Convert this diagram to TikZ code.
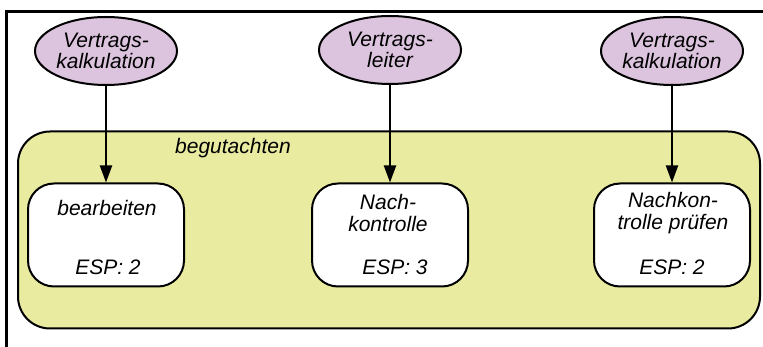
\documentclass[tikz,border=0pt]{standalone}
\usepackage{fontspec}
\setmainfont{Liberation Sans}
\usetikzlibrary{shapes.geometric,arrows.meta}
\definecolor{rolefill}{RGB}{220,196,222}
\definecolor{groupfill}{RGB}{232,235,160}
\tikzset{
  lbl/.style={font=\fontsize{21}{21.5}\selectfont\itshape, align=center, inner sep=0pt},
  role/.style={ellipse, draw=black, line width=2pt, fill=rolefill,
    minimum width=142pt, minimum height=68pt, inner sep=0pt,
    font=\fontsize{21}{21.5}\selectfont\itshape, align=center},
  task/.style={draw=black, line width=2pt, fill=white, rounded corners=26pt,
    minimum width=156pt, minimum height=103pt, inner sep=0pt},
  group/.style={draw=black, line width=2pt, fill=groupfill, rounded corners=32pt,
    minimum width=742pt, minimum height=197pt, inner sep=0pt},
  arr/.style={line width=2pt, -{Triangle[length=17pt,width=12pt]}}
}
\begin{document}
\begin{tikzpicture}[x=1pt,y=-1pt]
  \useasboundingbox (0,0) rectangle (763,347);
  % outer frame (only left and top edges lie inside the page)
  \coordinate (fb) at (6,352);
  \coordinate (fc) at (6,12);
  \coordinate (fr) at (768,12);
  \draw[line width=3pt] (fb) -- (fc) -- (fr);

  % grouping activity
  \node[group] (grp) at (389,230) {};
  \node[lbl, anchor=west] (grplbl) at (175,148) {begutachten};

  % tasks
  \node[task] (t1) at (106,235) {};
  \node[task] (t2) at (390,235) {};
  \node[task] (t3) at (672,235) {};

  \node[lbl] (t1a) at (107,208) {bearbeiten};
  \node[lbl] (t1b) at (108,267) {ESP: 2};

  \node[lbl] (t2a) at (388,213) {Nach-\\kontrolle};
  \node[lbl] (t2b) at (395,267) {ESP: 3};

  \node[lbl] (t3a) at (673,213) {Nachkon-\\trolle prüfen};
  \node[lbl] (t3b) at (672,267) {ESP: 2};

  % roles
  \node[role] (r1) at (106,51) {Vertrags-\\kalkulation};
  \node[role] (r2) at (390,50) {Vertrags-\\leiter};
  \node[role] (r3) at (672,51) {Vertrags-\\kalkulation};

  % assignments
  \draw[arr] (r1) -- (t1);
  \draw[arr] (r2) -- (t2);
  \draw[arr] (r3) -- (t3);
\end{tikzpicture}
\end{document}
